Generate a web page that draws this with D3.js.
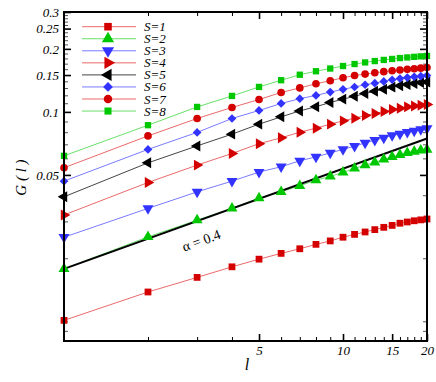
<!DOCTYPE html>
<html><head><meta charset="utf-8">
<script src="https://cdn.jsdelivr.net/npm/d3@7"></script>
<style>
body{margin:0;background:#fff}
text{font-family:"Liberation Serif","Times New Roman",serif;font-style:italic;fill:#000}
</style>
</head><body>
<svg id="c" width="436" height="382"></svg>
<script>
// ---- data ----
const lValues = [1,2,3,4,5,6,7,8,9,10,11,12,13,14,15,16,17,18,19,20];
const s1 = [0.0101,0.0138,0.0162,0.0182,0.0198,0.0211,0.0222,0.0233,0.0242,0.0252,0.0260,0.0267,0.0274,0.0281,0.0287,0.0294,0.0298,0.0302,0.0305,0.0308];
const s2 = [0.0178,0.0253,0.0304,0.0346,0.0388,0.0415,0.0444,0.0472,0.0492,0.0514,0.0537,0.0557,0.0574,0.0593,0.0610,0.0623,0.0637,0.0647,0.0656,0.0661];
const s3 = [0.0252,0.0346,0.0415,0.0467,0.0516,0.0547,0.0584,0.0610,0.0637,0.0662,0.0686,0.0711,0.0733,0.0752,0.0772,0.0785,0.0800,0.0812,0.0824,0.0833];
const s4 = [0.0322,0.0460,0.0557,0.0633,0.0705,0.0752,0.0800,0.0836,0.0874,0.0906,0.0933,0.0961,0.0983,0.1004,0.1027,0.1041,0.1057,0.1068,0.1076,0.1085];
const s5 = [0.0393,0.0571,0.0688,0.0783,0.0874,0.0947,0.1011,0.1059,0.1109,0.1151,0.1187,0.1225,0.1254,0.1283,0.1313,0.1332,0.1353,0.1368,0.1380,0.1390];
const s6 = [0.0467,0.0662,0.0798,0.0930,0.1016,0.1097,0.1156,0.1199,0.1244,0.1282,0.1315,0.1348,0.1372,0.1398,0.1424,0.1442,0.1459,0.1472,0.1482,0.1492];
const s7 = [0.0541,0.0768,0.0930,0.1050,0.1146,0.1238,0.1302,0.1363,0.1409,0.1456,0.1492,0.1516,0.1538,0.1557,0.1572,0.1585,0.1597,0.1607,0.1618,0.1629];
const s8 = [0.0617,0.0864,0.1056,0.1192,0.1316,0.1417,0.1505,0.1564,0.1611,0.1656,0.1693,0.1723,0.1749,0.1771,0.1790,0.1808,0.1820,0.1832,0.1842,0.1850];
const seriesNames = ["S=1","S=2","S=3","S=4","S=5","S=6","S=7","S=8"];
const alphaL = [1,20];
const alphaG = [0.0178,0.0746];
const alphaLabel = "\u03b1 = 0.4";
const xTickLabels = [5,10,15,20];
const xMinorTicks = [2,3,4,6,7,8,9,11,12,13,14,16,17,18,19];
const yTickLabels = [0.05,0.1,0.15,0.2,0.25,0.3];
const yMinorTicks = [0.009,0.01,0.02,0.03,0.04,0.06,0.07,0.08,0.09,0.11,0.12,0.13,0.14,0.16,0.17,0.18,0.19,0.21,0.22,0.23,0.24,0.26,0.27,0.28,0.29];
const yDomain = [0.00805,0.3];
const xDomain = [1,20];

// ---- styles ----
const allSeries = [s1,s2,s3,s4,s5,s6,s7,s8];
const markerColors = ["#d40000","#00c800","#3333ff","#d40000","#000000","#3333ff","#d40000","#00c800"];
const lineColors = ["#ea6a6a","#6ae06a","#7a7aff","#ea6a6a","#444444","#7a7aff","#ea6a6a","#6ae06a"];
const symTypes = [d3.symbolSquare,d3.symbolTriangle,d3.symbolTriangle,d3.symbolTriangle,d3.symbolTriangle,d3.symbolSquare,d3.symbolCircle,d3.symbolSquare];
const symRot = [0,0,180,90,-90,45,0,0];
const symSize = [46,52,52,52,52,38,46,40];

const svg = d3.select("#c");
const P = {l:64,r:427,t:12,b:341};
const x = d3.scaleLog().domain(xDomain).range([P.l,P.r]);
const y = d3.scaleLog().domain(yDomain).range([P.b,P.t]);

// axes (ticks inward)
function styleAxis(g, w){
  g.select(".domain").remove();
  g.selectAll(".tick line").attr("stroke","#000").attr("stroke-width",w);
  g.selectAll("text").style("font-size","13px").style("font-family",'"Liberation Serif",serif').style("font-style","italic");
}
const bMaj = svg.append("g").attr("transform",`translate(0,${P.b})`)
  .call(d3.axisBottom(x).tickValues(xTickLabels).tickSize(-7).tickFormat(d=>String(d)));
styleAxis(bMaj,1.6);
bMaj.selectAll("text").attr("y",14).attr("dy",null);
const bMin = svg.append("g").attr("transform",`translate(0,${P.b})`)
  .call(d3.axisBottom(x).tickValues(xMinorTicks).tickSize(-4).tickFormat(""));
styleAxis(bMin,1);
const tMaj = svg.append("g").attr("transform",`translate(0,${P.t})`)
  .call(d3.axisTop(x).tickValues(xTickLabels).tickSize(-7).tickFormat(""));
styleAxis(tMaj,1.6);
const tMin = svg.append("g").attr("transform",`translate(0,${P.t})`)
  .call(d3.axisTop(x).tickValues(xMinorTicks).tickSize(-4).tickFormat(""));
styleAxis(tMin,1);
const lMaj = svg.append("g").attr("transform",`translate(${P.l},0)`)
  .call(d3.axisLeft(y).tickValues(yTickLabels).tickSize(-7).tickPadding(5).tickFormat(d=>String(d)));
styleAxis(lMaj,1.6);
const lMin = svg.append("g").attr("transform",`translate(${P.l},0)`)
  .call(d3.axisLeft(y).tickValues(yMinorTicks).tickSize(-4).tickFormat(""));
styleAxis(lMin,1);
lMin.selectAll(".tick line").attr("stroke","#555");
const rMaj = svg.append("g").attr("transform",`translate(${P.r},0)`)
  .call(d3.axisRight(y).tickValues(yTickLabels).tickSize(-7).tickFormat(""));
styleAxis(rMaj,1.6);
const rMin = svg.append("g").attr("transform",`translate(${P.r},0)`)
  .call(d3.axisRight(y).tickValues(yMinorTicks).tickSize(-4).tickFormat(""));
styleAxis(rMin,1);
rMin.selectAll(".tick line").attr("stroke","#555");

// series lines
const line = d3.line().x(d=>x(d[0])).y(d=>y(d[1]));
allSeries.forEach((s,i)=>{
  const pts = lValues.map((l,j)=>[l,s[j]]);
  svg.append("path").attr("d",line(pts)).attr("fill","none")
    .attr("stroke",lineColors[i]).attr("stroke-width",1);
});
// alpha power-law line
svg.append("path").attr("d",line(alphaL.map((l,j)=>[l,alphaG[j]])))
  .attr("fill","none").attr("stroke","#000").attr("stroke-width",2);
// markers
allSeries.forEach((s,i)=>{
  const sym = d3.symbol().type(symTypes[i]).size(symSize[i]);
  svg.append("g").selectAll("path").data(lValues.map((l,j)=>[l,s[j]])).join("path")
    .attr("d",sym)
    .attr("transform",d=>`translate(${x(d[0])},${y(d[1])}) rotate(${symRot[i]})`)
    .attr("fill",markerColors[i]);
});

// frame
svg.append("rect").attr("x",P.l).attr("y",P.t).attr("width",P.r-P.l).attr("height",P.b-P.t)
  .attr("fill","none").attr("stroke","#000").attr("stroke-width",2);

// alpha label
svg.append("text").attr("transform","translate(203,245) rotate(-20)")
  .attr("text-anchor","middle").style("font-size","14px").style("font-style","normal")
  .text(alphaLabel);

// legend
seriesNames.forEach((n,i)=>{
  const ly = 26.7 + i*12.05;
  const g = svg.append("g");
  g.append("line").attr("x1",82).attr("x2",136).attr("y1",ly).attr("y2",ly)
    .attr("stroke",lineColors[i]).attr("stroke-width",1);
  g.append("path").attr("d",d3.symbol().type(symTypes[i]).size(symSize[i]*1.25)())
    .attr("transform",`translate(108,${ly}) rotate(${symRot[i]})`).attr("fill",markerColors[i]);
  g.append("text").attr("x",144).attr("y",ly+4.5).style("font-size","13px").text(n);
});

// axis titles
svg.append("text").attr("x",247).attr("y",370).attr("text-anchor","middle").style("font-size","16px").text("l");
svg.append("text").attr("transform","translate(25.5,177.5) rotate(-90)").attr("text-anchor","middle")
  .style("font-size","15px").text("G ( l )");
</script>
</body></html>
